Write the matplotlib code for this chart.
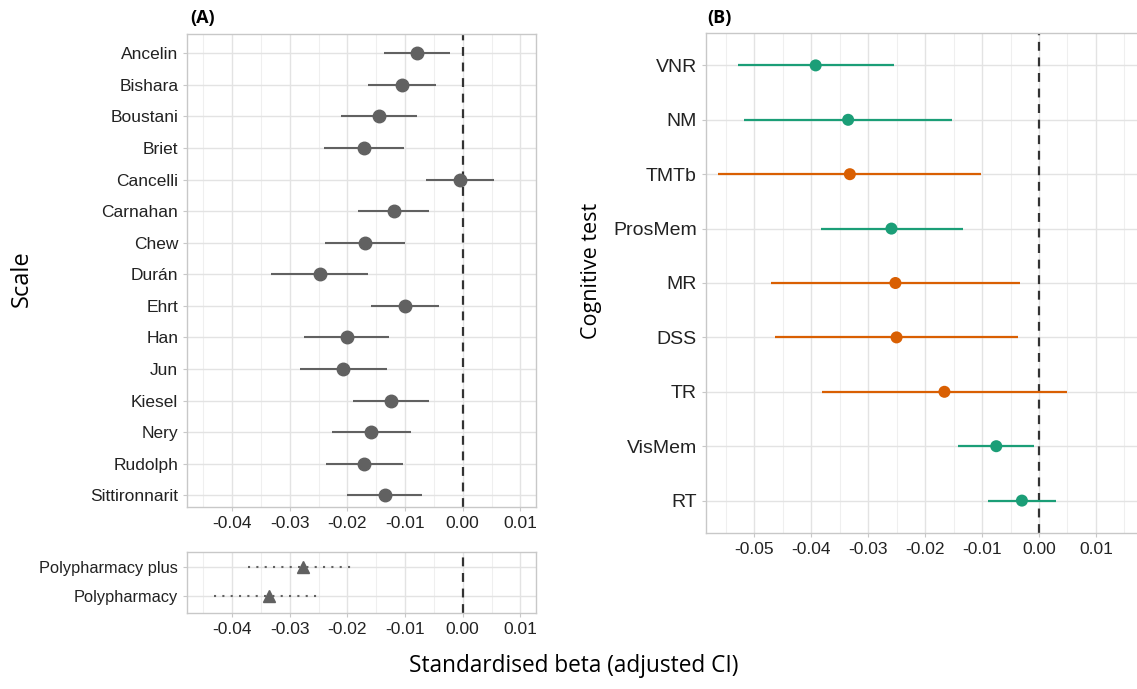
import numpy as np
import matplotlib.pyplot as plt

# data: panel A (scales)
scales = ['Ancelin', 'Bishara', 'Boustani', 'Briet', 'Cancelli', 'Carnahan', 'Chew',
          'Durán', 'Ehrt', 'Han', 'Jun', 'Kiesel', 'Nery', 'Rudolph', 'Sittironnarit']
scale_beta = [-0.0080, -0.0106, -0.0145, -0.0171, -0.0004, -0.0120, -0.0170,
              -0.0248, -0.0100, -0.0200, -0.0207, -0.0125, -0.0160, -0.0171, -0.0134]
scale_lo = [-0.0137, -0.0164, -0.0212, -0.0241, -0.0064, -0.0182, -0.0239,
            -0.0332, -0.0160, -0.0276, -0.0282, -0.0190, -0.0227, -0.0238, -0.0200]
scale_hi = [-0.0022, -0.0047, -0.0079, -0.0102, 0.0055, -0.0059, -0.0101,
            -0.0164, -0.0042, -0.0128, -0.0132, -0.0058, -0.0090, -0.0104, -0.0070]

# polypharmacy rows
poly = ['Polypharmacy plus', 'Polypharmacy']
poly_beta = [-0.0278, -0.0336]
poly_lo = [-0.0372, -0.0431]
poly_hi = [-0.0190, -0.0249]

# panel B (cognitive tests)
tests = ['VNR', 'NM', 'TMTb', 'ProsMem', 'MR', 'DSS', 'TR', 'VisMem', 'RT']
test_beta = [-0.0392, -0.0335, -0.0332, -0.0259, -0.0252, -0.0250, -0.0166, -0.0075, -0.0030]
test_lo = [-0.0529, -0.0517, -0.0564, -0.0383, -0.0470, -0.0464, -0.0380, -0.0142, -0.0089]
test_hi = [-0.0254, -0.0153, -0.0101, -0.0134, -0.0034, -0.0037, 0.0050, -0.0009, 0.0029]
test_group = ['g', 'g', 'o', 'g', 'o', 'o', 'o', 'g', 'g']
group_colors = {'g': '#1B9E77', 'o': '#D95F02'}

plt.rcParams['font.family'] = ['Liberation Sans', 'DejaVu Sans']
W, H = 1137, 689
fig = plt.figure(figsize=(W / 100, H / 100), dpi=100)


def px_axes(l, t, r, b):
    return fig.add_axes([l / W, 1 - b / H, (r - l) / W, (b - t) / H])


def style(ax, xticks, minor, labelsize_y):
    ax.set_xticks(xticks)
    ax.set_xticks(minor, minor=True)
    ax.set_xticklabels(['%.2f' % t for t in xticks])
    ax.grid(True, which='major', color='#E3E3E3', linewidth=1.0, zorder=0)
    ax.grid(True, which='minor', axis='x', color='#EFEFEF', linewidth=0.8, zorder=0)
    ax.set_axisbelow(True)
    for s in ax.spines.values():
        s.set_color('#C8C8C8')
        s.set_linewidth(1.0)
    ax.tick_params(axis='both', which='major', color='#C8C8C8', length=3,
                   labelcolor='#222222')
    ax.tick_params(axis='x', labelsize=12.5)
    ax.tick_params(axis='y', labelsize=labelsize_y)
    ax.tick_params(which='minor', length=0)
    ax.axvline(0, color='#333333', linestyle=(0, (4, 3)), linewidth=1.6, zorder=2)


grey = '#616161'

# panel A top
axA = px_axes(187.3, 34, 535.7, 507.3)
yA = np.arange(len(scales))[::-1]
axA.hlines(yA, scale_lo, scale_hi, color=grey, linewidth=1.5, zorder=3)
axA.plot(scale_beta, yA, 'o', color=grey, markersize=9, zorder=4)
axA.set_yticks(yA)
axA.set_yticklabels(scales)
axA.set_ylim(-0.38, 14.61)
axA.set_xlim(-0.0478, 0.01267)
style(axA, [-0.04, -0.03, -0.02, -0.01, 0.0, 0.01],
      [-0.045, -0.035, -0.025, -0.015, -0.005, 0.005], 12.5)

# panel A bottom
axP = px_axes(187.3, 552.3, 535.7, 612.7)
yP = np.arange(len(poly))[::-1]
axP.hlines(yP, poly_lo, poly_hi, color=grey, linewidth=1.5, linestyle=(0, (1, 3)), zorder=3)
axP.plot(poly_beta, yP, '^', color=grey, markersize=9, zorder=4)
axP.set_yticks(yP)
axP.set_yticklabels(poly)
axP.set_ylim(-0.57, 1.49)
axP.set_xlim(-0.0478, 0.01267)
style(axP, [-0.04, -0.03, -0.02, -0.01, 0.0, 0.01],
      [-0.045, -0.035, -0.025, -0.015, -0.005, 0.005], 11.8)

# panel B
axB = px_axes(705.7, 33.3, 1137, 532.7)
yB = np.arange(len(tests))[::-1]
cols = [group_colors[g] for g in test_group]
axB.hlines(yB, test_lo, test_hi, colors=cols, linewidth=1.6, zorder=3)
axB.scatter(test_beta, yB, c=cols, s=75, zorder=4, linewidths=0)
axB.set_yticks(yB)
axB.set_yticklabels(tests)
axB.set_ylim(-0.59, 8.59)
axB.set_xlim(-0.0585, 0.0172)
style(axB, [-0.05, -0.04, -0.03, -0.02, -0.01, 0.0, 0.01],
      [-0.055, -0.045, -0.035, -0.025, -0.015, -0.005, 0.005, 0.015], 14)
axB.spines['right'].set_visible(False)

# labels
lab_font = ['Open Sans', 'DejaVu Sans']
fig.text(190 / W, 1 - 18 / H, '(A)', fontsize=13, fontweight='bold', family=lab_font,
         ha='left', va='center')
fig.text(707 / W, 1 - 18 / H, '(B)', fontsize=13, fontweight='bold', family=lab_font,
         ha='left', va='center')
fig.text(22 / W, 1 - 279 / H, 'Scale', fontsize=17, family=lab_font, rotation=90,
         ha='center', va='center')
fig.text(592 / W, 1 - 271 / H, 'Cognitive test', fontsize=15.5, family=lab_font, rotation=90,
         ha='center', va='center')
fig.text(574 / W, 1 - 666 / H, 'Standardised beta (adjusted CI)', fontsize=16.3,
         family=lab_font, ha='center', va='center')

fig.savefig('out.png', dpi=100)
